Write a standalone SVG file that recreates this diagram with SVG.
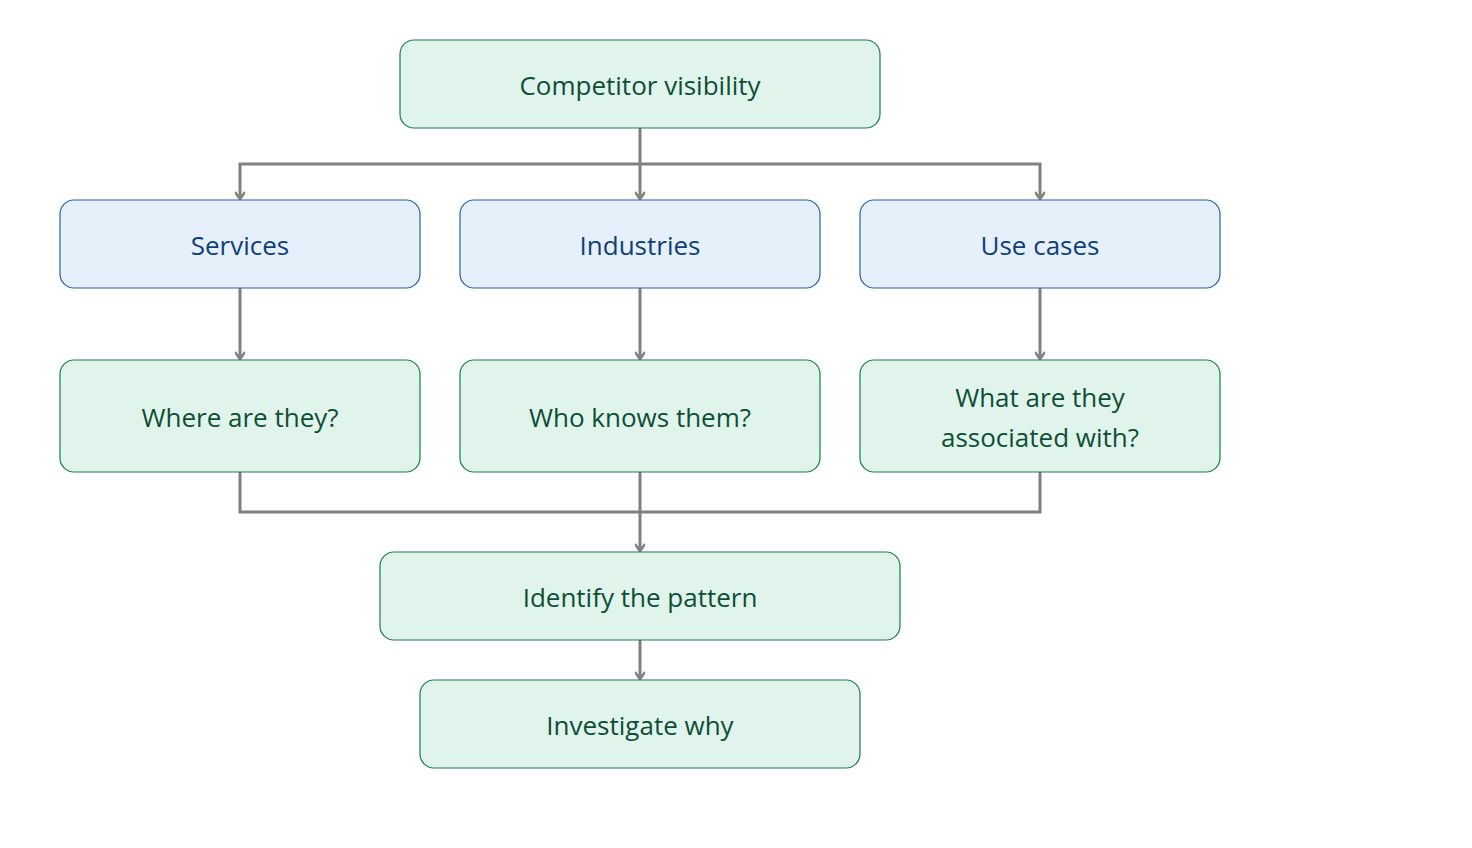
<svg xmlns="http://www.w3.org/2000/svg" width="1472" height="848" viewBox="0 0 1472 848">
<style>
.g{fill:#e1f4ec;stroke:#1a7a52;stroke-width:1.2}
.b{fill:#e5f0fb;stroke:#2a5ea8;stroke-width:1.2}
.tg{font-family:"Open Sans","Noto Sans",sans-serif;font-size:26px;fill:#0d4f35;text-anchor:middle}
.tb{font-family:"Open Sans","Noto Sans",sans-serif;font-size:26px;fill:#103f7a;text-anchor:middle}
.c{fill:none;stroke:#808080;stroke-width:3}
</style>
<defs><marker id="a" viewBox="0 0 12 10" refX="6" refY="9" markerWidth="12" markerHeight="10" markerUnits="userSpaceOnUse" orient="auto-start-reverse"><path d="M1,2 L6,9 L11,2" fill="none" stroke="#808080" stroke-width="2.5"/></marker>
<marker id="d" viewBox="0 0 12 10" refX="9" refY="5" markerWidth="12" markerHeight="10" markerUnits="userSpaceOnUse" orient="auto"><path d="M2,0 L9,5 L2,10" fill="none" stroke="#808080" stroke-width="2.5"/></marker></defs>
<g id="connectors">
<path class="c" d="M640,128 V199" marker-end="url(#d)"/>
<path class="c" d="M640,164 H240 V199" marker-end="url(#d)"/>
<path class="c" d="M640,164 H1040 V199" marker-end="url(#d)"/>
<path class="c" d="M240,288 V359" marker-end="url(#d)"/>
<path class="c" d="M640,288 V359" marker-end="url(#d)"/>
<path class="c" d="M1040,288 V359" marker-end="url(#d)"/>
<path class="c" d="M640,472 V551" marker-end="url(#d)"/>
<path class="c" d="M240,472 V512 H1040 V472"/>
<path class="c" d="M640,640 V679" marker-end="url(#d)"/>
</g>
<g id="n1"><rect class="g" x="400" y="40" width="480" height="88" rx="14"/><text class="tg" x="640" y="95">Competitor visibility</text></g>
<g id="n2"><rect class="b" x="60" y="200" width="360" height="88" rx="14"/><text class="tb" x="240" y="255">Services</text></g>
<g id="n3"><rect class="b" x="460" y="200" width="360" height="88" rx="14"/><text class="tb" x="640" y="255">Industries</text></g>
<g id="n4"><rect class="b" x="860" y="200" width="360" height="88" rx="14"/><text class="tb" x="1040" y="255">Use cases</text></g>
<g id="n5"><rect class="g" x="60" y="360" width="360" height="112" rx="14"/><text class="tg" x="240" y="427">Where are they?</text></g>
<g id="n6"><rect class="g" x="460" y="360" width="360" height="112" rx="14"/><text class="tg" x="640" y="427">Who knows them?</text></g>
<g id="n7"><rect class="g" x="860" y="360" width="360" height="112" rx="14"/><text class="tg" x="1040" y="407">What are they</text><text class="tg" x="1040" y="447">associated with?</text></g>
<g id="n8"><rect class="g" x="380" y="552" width="520" height="88" rx="14"/><text class="tg" x="640" y="607">Identify the pattern</text></g>
<g id="n9"><rect class="g" x="420" y="680" width="440" height="88" rx="14"/><text class="tg" x="640" y="735">Investigate why</text></g>
</svg>
